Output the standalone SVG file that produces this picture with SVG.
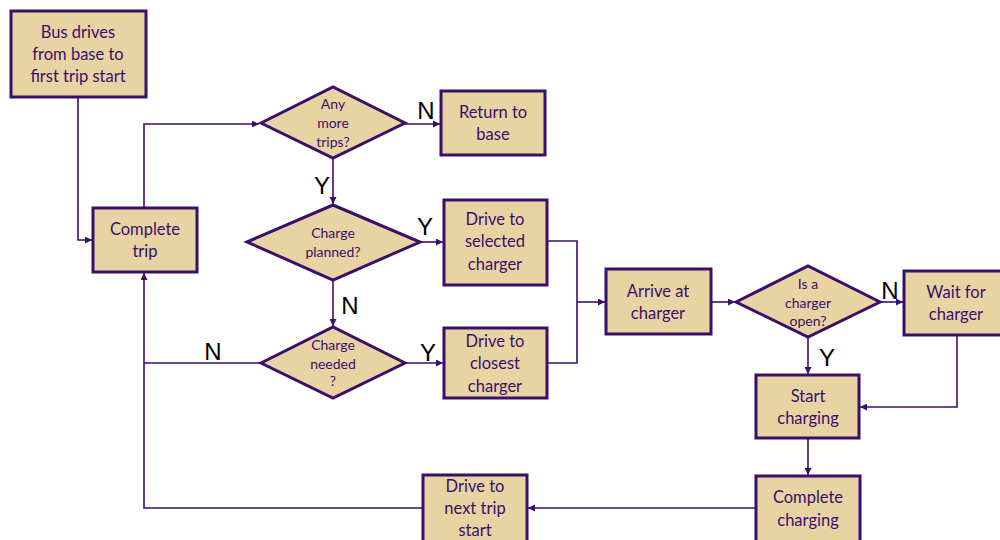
<svg xmlns="http://www.w3.org/2000/svg" width="1000" height="540" viewBox="0 0 1000 540">
<style>
.box{fill:#E8D3A3;stroke:#3A0F6B;stroke-width:3}
.t{font-family:Lato,"Open Sans","Liberation Sans",sans-serif;font-size:16.5px;fill:#3A0F6B;text-anchor:middle}
.d{font-family:Lato,"Open Sans","Liberation Sans",sans-serif;font-size:14px;fill:#3A0F6B;text-anchor:middle}
.c{fill:none;stroke:#3A0F6B;stroke-width:1.6}
.lab{font-family:"Liberation Sans",Arial,sans-serif;font-size:24px;fill:#000;text-anchor:middle}
</style>
<defs>
<marker id="ah" viewBox="0 0 10 10" refX="10" refY="5" markerWidth="7" markerHeight="7" markerUnits="userSpaceOnUse" orient="auto">
<path d="M0,0 L10,5 L0,10 z" fill="#3A0F6B"/>
</marker>
</defs>
<rect width="1000" height="540" fill="#fff"/>
<g id="connectors">
<polyline class="c" points="78,97 78,240 92,240" marker-end="url(#ah)"/>
<polyline class="c" points="144,208 144,124 259,124" marker-end="url(#ah)"/>
<polyline class="c" points="405,124 440,124" marker-end="url(#ah)"/>
<polyline class="c" points="333,158 333,204" marker-end="url(#ah)"/>
<polyline class="c" points="420,242 443,242" marker-end="url(#ah)"/>
<polyline class="c" points="333,280 333,326" marker-end="url(#ah)"/>
<polyline class="c" points="405,363 443,363" marker-end="url(#ah)"/>
<polyline class="c" points="261,363 144,363"/>
<polyline class="c" points="547,241 577,241 577,363 547,363"/>
<polyline class="c" points="577,302 605,302" marker-end="url(#ah)"/>
<polyline class="c" points="711,302 735,302" marker-end="url(#ah)"/>
<polyline class="c" points="880,302 903,302" marker-end="url(#ah)"/>
<polyline class="c" points="808,337 808,374" marker-end="url(#ah)"/>
<polyline class="c" points="957,335 957,407 860,407" marker-end="url(#ah)"/>
<polyline class="c" points="808,438 808,475" marker-end="url(#ah)"/>
<polyline class="c" points="756,508 528,508" marker-end="url(#ah)"/>
<polyline class="c" points="423,508 144,508 144,273" marker-end="url(#ah)"/>
</g>
<g id="n_bus"><rect class="box" x="11" y="11" width="135" height="86"/>
<text class="t" x="78" y="38">Bus drives</text><text class="t" x="78" y="60">from base to</text><text class="t" x="78" y="82">first trip start</text></g>
<g id="n_complete_trip"><rect class="box" x="93" y="208" width="104" height="64"/>
<text class="t" x="145" y="235">Complete</text><text class="t" x="145" y="257">trip</text></g>
<g id="n_any_more"><polygon class="box" points="261,123 333,87 405,123 333,158"/>
<text class="d" x="333" y="109">Any</text><text class="d" x="333" y="128">more</text><text class="d" x="333" y="147">trips?</text></g>
<g id="n_return"><rect class="box" x="441" y="91" width="104" height="64"/>
<text class="t" x="493" y="118">Return to</text><text class="t" x="493" y="140">base</text></g>
<g id="n_planned"><polygon class="box" points="247,242 333,205 420,242 333,280"/>
<text class="d" x="333" y="238">Charge</text><text class="d" x="333" y="257">planned?</text></g>
<g id="n_selected"><rect class="box" x="444" y="200" width="103" height="85"/>
<text class="t" x="495" y="225">Drive to</text><text class="t" x="495" y="247">selected</text><text class="t" x="495" y="270">charger</text></g>
<g id="n_needed"><polygon class="box" points="261,363 333,327 405,363 333,398"/>
<text class="d" x="333" y="350">Charge</text><text class="d" x="333" y="369">needed</text><text class="d" x="333" y="386">?</text></g>
<g id="n_closest"><rect class="box" x="444" y="328" width="103" height="70"/>
<text class="t" x="495" y="347">Drive to</text><text class="t" x="495" y="369">closest</text><text class="t" x="495" y="392">charger</text></g>
<g id="n_arrive"><rect class="box" x="606" y="269" width="105" height="65"/>
<text class="t" x="658" y="297">Arrive at</text><text class="t" x="658" y="319">charger</text></g>
<g id="n_open"><polygon class="box" points="736,302 808,266 880,302 808,337"/>
<text class="d" x="808" y="289">Is a</text><text class="d" x="808" y="308">charger</text><text class="d" x="808" y="326">open?</text></g>
<g id="n_wait"><rect class="box" x="904" y="271" width="104" height="64"/>
<text class="t" x="956" y="298">Wait for</text><text class="t" x="956" y="320">charger</text></g>
<g id="n_start"><rect class="box" x="756" y="375" width="103" height="63"/>
<text class="t" x="808" y="402">Start</text><text class="t" x="808" y="424">charging</text></g>
<g id="n_complete_charging"><rect class="box" x="756" y="476" width="104" height="66"/>
<text class="t" x="808" y="503">Complete</text><text class="t" x="808" y="526">charging</text></g>
<g id="n_next"><rect class="box" x="423" y="475" width="104" height="67"/>
<text class="t" x="475" y="492">Drive to</text><text class="t" x="475" y="514">next trip</text><text class="t" x="475" y="536">start</text></g>
<g id="labels">
<text class="lab" x="426" y="119">N</text>
<text class="lab" x="322" y="194">Y</text>
<text class="lab" x="425" y="235">Y</text>
<text class="lab" x="350" y="314">N</text>
<text class="lab" x="428" y="361">Y</text>
<text class="lab" x="213" y="360">N</text>
<text class="lab" x="890" y="299">N</text>
<text class="lab" x="827" y="366">Y</text>
</g>
</svg>
